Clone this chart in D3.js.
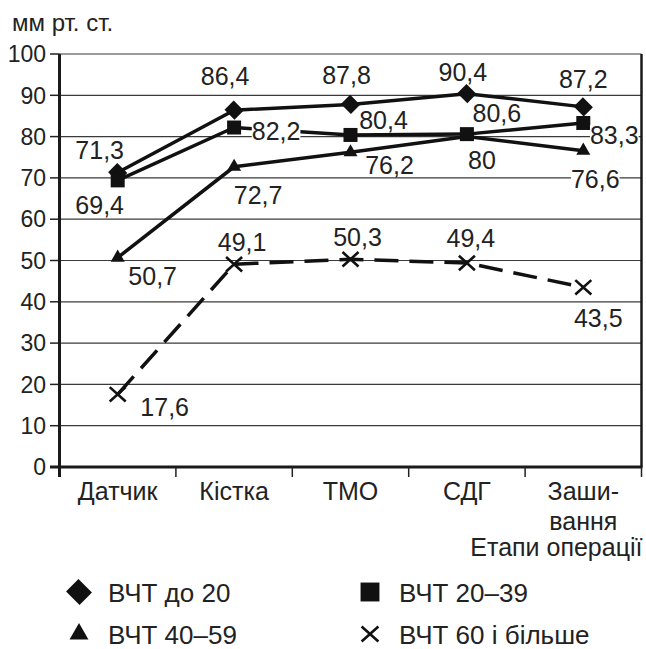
<!DOCTYPE html>
<html>
<head>
<meta charset="utf-8">
<script src="https://cdn.jsdelivr.net/npm/d3@7/dist/d3.min.js"></script>
<style>
  html, body { margin: 0; padding: 0; background: #fff; }
  svg { display: block; font-family: "Liberation Sans", Arial, sans-serif; }
</style>
</head>
<body>
<svg id="chart" width="646" height="649"></svg>
<script>
// Stages of the operation (x categories); "\n" marks a line break
const categories = ["Датчик", "Кістка", "ТМО", "СДГ", "Заши-\nвання"];
const yTicks = [0, 10, 20, 30, 40, 50, 60, 70, 80, 90, 100];
const yTitle = "мм рт. ст.";
const xTitle = "Етапи операції";

// Series names (legend)
const seriesNames = ["ВЧТ до 20", "ВЧТ 20–39", "ВЧТ 40–59", "ВЧТ 60 і більше"];

// Series values, mm Hg
const icpUnder20 = [71.3, 86.4, 87.8, 90.4, 87.2];
const icp20to39  = [69.4, 82.2, 80.4, 80.6, 83.3];
const icp40to59  = [50.7, 72.7, 76.2, 80, 76.6];
const icp60plus  = [17.6, 49.1, 50.3, 49.4, 43.5];

// Value label offsets from each point (label centre), px
const offsUnder20 = [[-18, -23], [-9, -34], [-4, -29], [-4, -22], [0, -28]];
const offs20to39  = [[-18, 25], [42, 3], [33, -15], [30, -21], [31, 12]];
const offs40to59  = [[35, 18], [24, 28], [39, 13], [15, 23], [12, 28]];
const offs60plus  = [[47, 13], [8, -22], [7, -22], [4, -25], [15, 31]];

const series = [
  { name: seriesNames[0], values: icpUnder20, offs: offsUnder20, marker: "diamond", dash: null },
  { name: seriesNames[1], values: icp20to39,  offs: offs20to39,  marker: "square",  dash: null },
  { name: seriesNames[2], values: icp40to59,  offs: offs40to59,  marker: "triangle", dash: null },
  { name: seriesNames[3], values: icp60plus,  offs: offs60plus,  marker: "cross",   dash: "24,11" }
];

const svg = d3.select("#chart");
svg.append("rect").attr("width", 646).attr("height", 649).attr("fill", "#fff");

const plotL = 59.5, plotR = 641.5, plotT = 54, plotB = 467;
const x = d3.scaleBand().domain(categories).range([plotL, plotR]);
const y = d3.scaleLinear().domain([0, 100]).range([plotB, plotT]);
const cx = i => x(categories[i]) + x.bandwidth() / 2;

// Horizontal gridlines
svg.append("g").selectAll("line").data(yTicks.filter(t => t > 0)).join("line")
  .attr("x1", plotL).attr("x2", plotR)
  .attr("y1", d => y(d)).attr("y2", d => y(d))
  .attr("stroke", "#3a3a3a").attr("stroke-width", 1.2);

// Y axis ticks and labels
svg.append("g").selectAll("line").data(yTicks).join("line")
  .attr("x1", 50).attr("x2", plotL)
  .attr("y1", d => y(d)).attr("y2", d => y(d))
  .attr("stroke", "#222").attr("stroke-width", 1.5);
svg.append("g").selectAll("text").data(yTicks).join("text")
  .attr("x", 46).attr("y", d => y(d)).attr("dy", "0.36em")
  .attr("text-anchor", "end").attr("font-size", 23).attr("fill", "#222")
  .text(d => d);

svg.append("text").attr("x", 12).attr("y", 31)
  .attr("font-size", 24).attr("fill", "#222").text(yTitle);

// Frame: left axis, bottom axis, right border
svg.append("line").attr("x1", plotL).attr("x2", plotL).attr("y1", plotT).attr("y2", plotB + 10)
  .attr("stroke", "#1a1a1a").attr("stroke-width", 3);
svg.append("line").attr("x1", 50).attr("x2", plotR + 1).attr("y1", plotB).attr("y2", plotB)
  .attr("stroke", "#1a1a1a").attr("stroke-width", 3);
svg.append("line").attr("x1", plotR).attr("x2", plotR).attr("y1", plotT).attr("y2", plotB)
  .attr("stroke", "#1a1a1a").attr("stroke-width", 2.5);

// Category boundary ticks
const bounds = categories.map(c => x(c)).concat([plotR]);
svg.append("g").selectAll("line").data(bounds.slice(1)).join("line")
  .attr("x1", d => d).attr("x2", d => d).attr("y1", plotB).attr("y2", plotB + 10)
  .attr("stroke", "#222").attr("stroke-width", 1.5);

// Category labels
const catG = svg.append("g").attr("font-size", 25).attr("fill", "#222").attr("text-anchor", "middle");
categories.forEach((c, i) => {
  const t = catG.append("text").attr("x", cx(i)).attr("y", 500);
  c.split("\n").forEach((ln, k) => {
    t.append("tspan").attr("x", cx(i)).attr("dy", k === 0 ? 0 : 30).text(ln);
  });
});
svg.append("text").attr("x", plotR + 1).attr("y", 556).attr("text-anchor", "end")
  .attr("font-size", 25).attr("fill", "#222").text(xTitle);

// Marker drawing
function drawMarker(g, type, px, py, scale) {
  const s = scale || 1;
  if (type === "diamond") {
    g.append("path").attr("d", d3.symbol(d3.symbolSquare, 200 * s * s)())
      .attr("transform", `translate(${px},${py}) rotate(45) scale(1,0.92)`).attr("fill", "#111");
  } else if (type === "square") {
    g.append("path").attr("d", d3.symbol(d3.symbolSquare, 196 * s * s)())
      .attr("transform", `translate(${px},${py})`).attr("fill", "#111");
  } else if (type === "triangle") {
    g.append("path").attr("d", d3.symbol(d3.symbolTriangle, 85 * s * s)())
      .attr("transform", `translate(${px},${py})`).attr("fill", "#111");
  } else {
    const r = 8 * s;
    g.append("path").attr("d", `M${-r},${-r * 0.9}L${r},${r * 0.9}M${-r},${r * 0.9}L${r},${-r * 0.9}`)
      .attr("transform", `translate(${px},${py})`)
      .attr("stroke", "#111").attr("stroke-width", 2.6).attr("fill", "none");
  }
}

// Lines
const line = d3.line().x((d, i) => cx(i)).y(d => y(d));
series.forEach(s => {
  svg.append("path").datum(s.values).attr("d", line)
    .attr("fill", "none").attr("stroke", "#111").attr("stroke-width", 3.5)
    .attr("stroke-linejoin", "round")
    .attr("stroke-dasharray", s.dash);
});

// Markers
const mG = svg.append("g");
series.forEach(s => s.values.forEach((v, i) => drawMarker(mG, s.marker, cx(i), y(v), 1)));

// Value labels with white backing
const fmt = v => String(v).replace(".", ",");
const lG = svg.append("g");
series.forEach(s => s.values.forEach((v, i) => {
  const g = lG.append("g");
  const t = g.append("text")
    .attr("x", cx(i) + s.offs[i][0]).attr("y", y(v) + s.offs[i][1]).attr("dy", "0.36em")
    .attr("text-anchor", "middle").attr("font-size", 25).attr("fill", "#222")
    .text(fmt(v));
  const bb = t.node().getBBox();
  g.insert("rect", "text")
    .attr("x", bb.x).attr("y", y(v) + s.offs[i][1] - 10)
    .attr("width", bb.width).attr("height", 20).attr("fill", "#fff");
}));

// Legend
const legendPos = [[79, 592], [370, 592], [79, 634], [370, 634]];
const legG = svg.append("g");
series.forEach((s, k) => {
  const [lx, ly] = legendPos[k];
  drawMarker(legG, s.marker, lx, ly, s.marker === "cross" ? 1.05 : 1.35);
  legG.append("text").attr("x", lx + 29).attr("y", ly + 10)
    .attr("font-size", 26).attr("fill", "#222").text(s.name);
});
</script>
</body>
</html>
